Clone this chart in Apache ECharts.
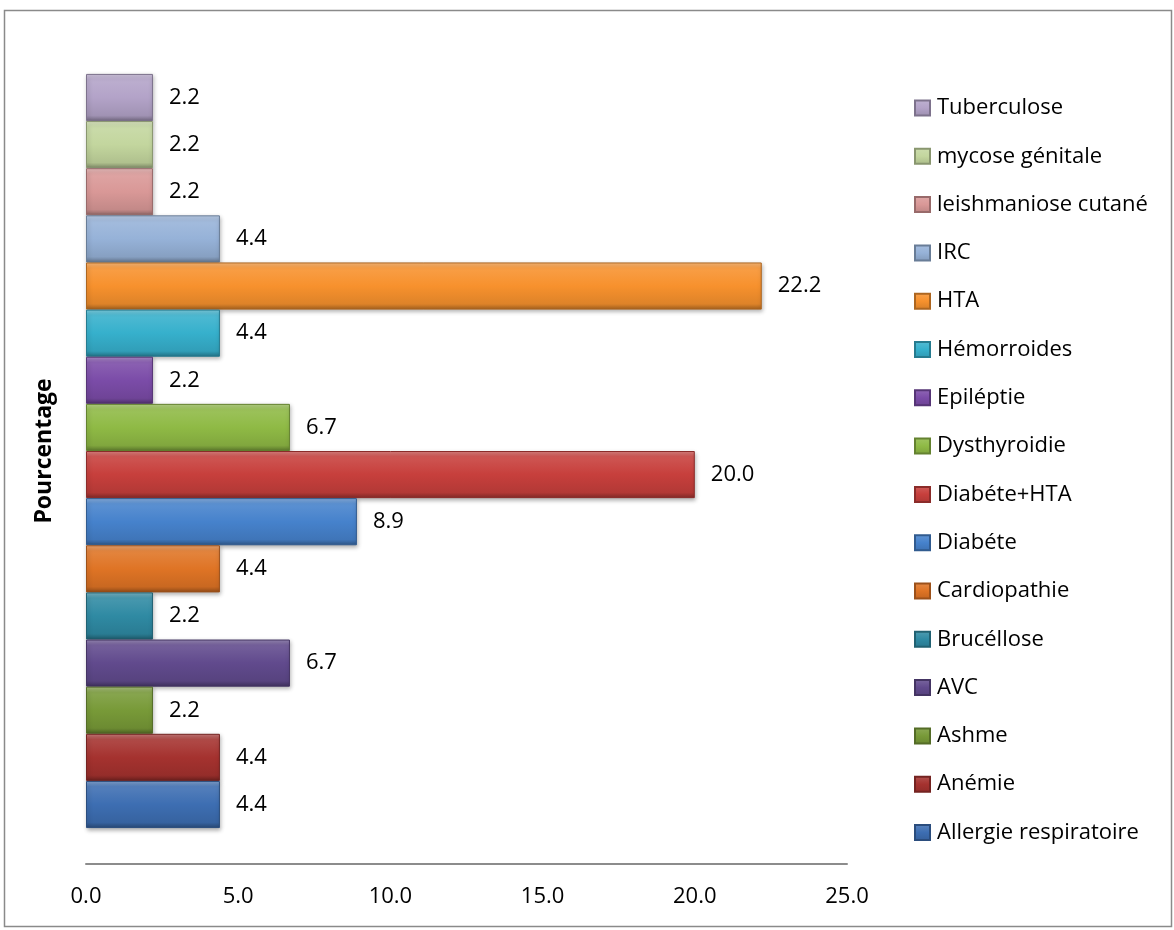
<!DOCTYPE html>
<html>
<head>
<meta charset="utf-8">
<script src="https://cdn.jsdelivr.net/npm/echarts@6/dist/echarts.min.js"></script>
<style>
  html, body { margin: 0; padding: 0; background: #fff; }
  #chart { width: 1174px; height: 930px; }
</style>
</head>
<body>
<div id="chart"></div>
<script>
// Diseases, listed from the bottom bar upwards
const diseases = [
  'Allergie respiratoire', 'Anémie', 'Ashme', 'AVC', 'Brucéllose', 'Cardiopathie',
  'Diabéte', 'Diabéte+HTA', 'Dysthyroidie', 'Epiléptie', 'Hémorroides', 'HTA',
  'IRC', 'leishmaniose cutané', 'mycose génitale', 'Tuberculose'
];
// Percentage per disease
const percentages = [4.4, 4.4, 2.2, 6.7, 2.2, 4.4, 8.9, 20.0, 6.7, 2.2, 4.4, 22.2, 4.4, 2.2, 2.2, 2.2];
// Bar fill colours
const barColors = [
  '#3d6eb2', '#a5322f', '#789a38', '#614a8d', '#2f8aa3', '#df7425',
  '#4682cc', '#c73f3c', '#8fba45', '#7b4ca8', '#36b0cc', '#f7912d',
  '#96b2d8', '#d99897', '#c3d69e', '#b3a3c8'
];
// Value axis ticks
const xTicks = [0, 5, 10, 15, 20, 25];

function shade(hex, amt) {
  const n = parseInt(hex.slice(1), 16);
  let r = (n >> 16) & 255, g = (n >> 8) & 255, b = n & 255;
  const t = amt < 0 ? 0 : 255, p = Math.abs(amt);
  r = Math.round((t - r) * p + r);
  g = Math.round((t - g) * p + g);
  b = Math.round((t - b) * p + b);
  return 'rgb(' + r + ',' + g + ',' + b + ')';
}

function bevel(hex) {
  return new echarts.graphic.LinearGradient(0, 0, 0, 1, [
    { offset: 0, color: shade(hex, 0.35) },
    { offset: 0.12, color: shade(hex, 0.12) },
    { offset: 0.5, color: hex },
    { offset: 0.88, color: shade(hex, -0.1) },
    { offset: 1, color: shade(hex, -0.35) }
  ]);
}

const FONT = '"Open Sans", sans-serif';

// ECharts stacks series of one category from the top down, so the list is reversed
const series = diseases.map((name, i) => ({
  name: name,
  type: 'bar',
  data: [percentages[i]],
  barGap: '0%',
  barCategoryGap: '8.7%',
  itemStyle: {
    color: bevel(barColors[i]),
    borderColor: shade(barColors[i], -0.3),
    borderWidth: 1,
    shadowColor: 'rgba(0,0,0,0.3)',
    shadowBlur: 4,
    shadowOffsetX: 1,
    shadowOffsetY: 2
  },
  label: {
    show: true,
    position: 'right',
    distance: 16,
    color: '#000',
    fontFamily: FONT,
    fontSize: 22,
    formatter: p => Number(p.value).toFixed(1)
  }
})).reverse();

const chart = echarts.init(document.getElementById('chart'), null, { renderer: 'canvas' });
chart.setOption({
  backgroundColor: '#fff',
  animation: false,
  graphic: [{
    type: 'rect',
    shape: { x: 4.5, y: 10.5, width: 1167, height: 916 },
    style: { fill: 'none', stroke: '#8a8a8a', lineWidth: 1.5 },
    z: -1
  }],
  grid: { left: 86, right: 327, top: 38, bottom: 66, containLabel: false },
  xAxis: {
    type: 'value',
    min: xTicks[0],
    max: xTicks[xTicks.length - 1],
    interval: xTicks[1] - xTicks[0],
    axisLine: { show: true, lineStyle: { color: '#8c8c8c', width: 2 } },
    axisTick: { show: false },
    splitLine: { show: false },
    axisLabel: {
      color: '#000',
      fontFamily: FONT,
      fontSize: 22,
      margin: 22,
      formatter: v => v.toFixed(1)
    }
  },
  yAxis: {
    type: 'category',
    data: [''],
    name: 'Pourcentage',
    nameLocation: 'middle',
    nameRotate: 90,
    nameGap: 30,
    nameTextStyle: { color: '#000', fontFamily: FONT, fontSize: 23, fontWeight: 'bold' },
    axisLine: { show: false },
    axisTick: { show: false },
    axisLabel: { show: false }
  },
  legend: {
    orient: 'vertical',
    left: 914,
    top: 96,
    padding: 0,
    itemWidth: 15,
    itemHeight: 15,
    itemGap: 24.3,
    icon: 'rect',
    data: diseases.slice().reverse(),
    textStyle: { color: '#000', fontFamily: FONT, fontSize: 22, lineHeight: 24, padding: [0, 0, 0, 2] }
  },
  series: series
});
</script>
</body>
</html>
